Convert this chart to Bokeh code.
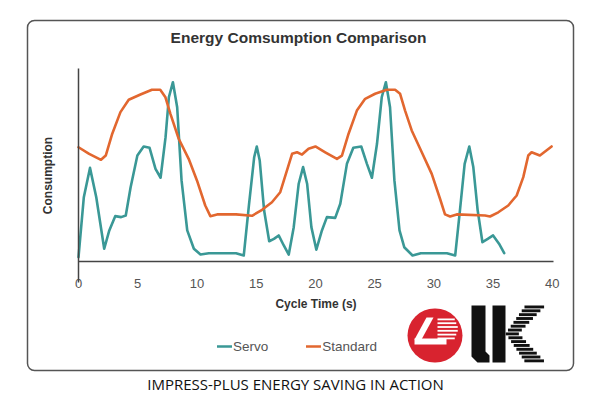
from bokeh.plotting import figure
from bokeh.models import (Range1d, FixedTicker, Label, BoxAnnotation, PolyAnnotation,
                          Legend, LegendItem)
from bokeh.embed import file_html
from bokeh.resources import INLINE

# ---------------- data ----------------
servo_t = [0, 0.45, 0.97, 1.5, 2.17, 2.6, 3.1, 3.6, 3.99, 4.4,
           4.97, 5.5, 6.0, 6.5, 6.93, 7.35, 7.63, 7.97, 8.33, 8.7,
           9.18, 9.74, 10.3, 11.0, 13.3, 13.95, 14.4, 14.83, 15.05, 15.3,
           15.67, 16.1, 16.5, 16.9, 17.33, 17.75, 18.17, 18.59, 18.96, 19.3,
           19.66, 20.08, 20.55, 20.97, 21.67, 22.1, 22.66, 23.2, 23.87, 24.35,
           24.77, 25.2, 25.6, 25.95, 26.3, 26.67, 27.1, 27.5, 28.2, 28.9,
           31.1, 31.8, 32.2, 32.6, 32.99, 33.33, 33.7, 34.1, 34.55, 35.0,
           35.5, 35.94]
servo_v = [0.22, 3.33, 4.85, 3.33, 0.66, 1.61, 2.35, 2.30, 2.38, 3.85,
           5.49, 5.96, 5.89, 4.80, 4.34, 6.44, 8.51, 9.29, 7.99, 4.20,
           1.61, 0.66, 0.36, 0.43, 0.43, 0.31, 2.99, 5.40, 5.96, 5.23,
           2.64, 1.05, 1.17, 1.35, 0.83, 0.36, 1.78, 4.03, 4.89, 4.03,
           1.78, 0.61, 1.61, 2.30, 2.26, 2.99, 5.06, 5.89, 5.96, 5.06,
           4.34, 6.10, 8.51, 9.29, 7.99, 4.20, 1.61, 0.74, 0.31, 0.43,
           0.43, 0.31, 2.64, 5.06, 5.96, 4.89, 2.64, 1.00, 1.17, 1.35,
           0.92, 0.43]

standard_t = [0, 0.9, 1.9, 2.3, 2.85, 3.54, 4.24, 5.23, 6.2, 6.9,
              7.34, 7.76, 8.46, 9.3, 10.0, 10.7, 11.13, 11.7, 13.3, 14.65,
              15.5, 16.33, 17.03, 17.6, 18.03, 18.45, 18.87, 19.42, 20.0, 20.83,
              21.82, 22.24, 22.8, 23.5, 24.2, 25.04, 26.03, 26.73, 27.15, 27.57,
              28.13, 28.98, 29.82, 30.52, 30.94, 31.37, 31.93, 34.32, 34.74, 35.44,
              36.28, 36.99, 37.55, 37.97, 38.25, 38.95, 39.94]
standard_v = [5.92, 5.58, 5.27, 5.49, 6.62, 7.74, 8.38, 8.65, 8.90, 8.90,
              8.51, 7.65, 6.36, 5.32, 4.20, 2.90, 2.35, 2.44, 2.44, 2.37,
              2.68, 3.07, 3.59, 4.72, 5.58, 5.66, 5.54, 5.84, 5.96, 5.66,
              5.32, 5.49, 6.62, 7.82, 8.43, 8.69, 8.90, 8.90, 8.69, 7.82,
              6.79, 5.66, 4.54, 3.25, 2.44, 2.33, 2.44, 2.38, 2.33, 2.55,
              2.90, 3.42, 4.37, 5.49, 5.66, 5.49, 5.96]

x_ticks = [0, 5, 10, 15, 20, 25, 30, 35, 40]
x_axis_max = 40.1
y_axis_min, y_axis_max = -1.09, 10.0
series_names = ["Servo", "Standard"]
series_colors = ["#3a9896", "#e2672f"]

title_text = "Energy Comsumption Comparison"
x_title = "Cycle Time (s)"
y_title = "Consumption"
caption_text = "IMPRESS-PLUS ENERGY SAVING IN ACTION"

# ---------------- layout geometry (pixels) ----------------
W, H = 600, 392
X0_PX, X1_PX = 78, 553          # pixel positions of x = 0 and x = x_axis_max
Y0_PX, YTOP_PX = 261, 68        # pixel positions of y = 0 and y = y_axis_max
ppx = (X1_PX - X0_PX) / x_axis_max
ppy = (Y0_PX - YTOP_PX) / y_axis_max

p = figure(width=W, height=H, output_backend="svg", toolbar_location=None,
           x_range=Range1d(-X0_PX / ppx, (W - X0_PX) / ppx),
           y_range=Range1d(-(H - Y0_PX) / ppy, Y0_PX / ppy),
           min_border=0, min_border_left=0, min_border_right=0,
           min_border_top=0, min_border_bottom=0)
p.outline_line_color = None
p.xgrid.visible = False
p.ygrid.visible = False
p.background_fill_color = "white"
p.border_fill_color = "white"

FONT = "Liberation Sans"
AX = "#444444"

xa = p.xaxis[0]
xa.fixed_location = 0
xa.bounds = (0, x_axis_max)
xa.ticker = FixedTicker(ticks=x_ticks)
xa.minor_tick_line_color = None
xa.major_tick_in = 0
xa.major_tick_out = 0
xa.major_label_standoff = 17
xa.major_label_text_font = FONT
xa.major_label_text_font_size = "13px"
xa.major_label_text_color = "#555555"
xa.axis_line_color = AX
xa.axis_line_width = 1.5
xa.axis_label = x_title
xa.axis_label_standoff = 6
xa.axis_label_text_font = FONT
xa.axis_label_text_font_style = "bold"
xa.axis_label_text_font_size = "12px"
xa.axis_label_text_color = "#333333"

ya = p.yaxis[0]
ya.fixed_location = 0
ya.bounds = (y_axis_min, y_axis_max)
ya.ticker = FixedTicker(ticks=[])
ya.minor_tick_line_color = None
ya.major_tick_in = 0
ya.major_tick_out = 0
ya.major_label_standoff = 0
ya.axis_line_color = AX
ya.axis_line_width = 1.5
ya.axis_label = y_title
ya.axis_label_standoff = 24
ya.axis_label_text_font = FONT
ya.axis_label_text_font_style = "bold"
ya.axis_label_text_font_size = "12px"
ya.axis_label_text_color = "#333333"

r_servo = p.line(servo_t, servo_v, line_color=series_colors[0], line_width=2.6,
                 line_join="round", line_cap="round")
r_std = p.line(standard_t, standard_v, line_color=series_colors[1], line_width=2.6,
               line_join="round", line_cap="round")


# screen helpers: page pixel -> screen units (x from left, y from bottom)
def sx(px):
    return px


def sy(py):
    return H - py


legend = Legend(items=[LegendItem(label=series_names[0], renderers=[r_servo]),
                       LegendItem(label=series_names[1], renderers=[r_std])],
                location=(sx(217), sy(356)), orientation="horizontal",
                border_line_color=None, background_fill_alpha=0,
                padding=0, margin=0, spacing=38, glyph_width=15,
                label_standoff=1, label_text_font=FONT,
                label_text_font_size="13.5px", label_text_color="#555555")
p.add_layout(legend)

# rounded frame
p.add_layout(BoxAnnotation(left=sx(27), right=sx(573), top=sy(20), bottom=sy(370),
                           left_units="screen", right_units="screen",
                           top_units="screen", bottom_units="screen",
                           fill_alpha=0, line_color="#555555", line_alpha=1,
                           line_width=1.5, border_radius=7, level="underlay"))

p.add_layout(Label(x=sx(298), y=sy(37), x_units="screen", y_units="screen",
                   text=title_text, text_align="center", text_baseline="middle",
                   text_font=FONT, text_font_style="bold", text_font_size="15.5px",
                   text_color="#333333"))
p.add_layout(Label(x=sx(295), y=sy(383), x_units="screen", y_units="screen",
                   text=caption_text, text_align="center", text_baseline="middle",
                   text_font="Open Sans", text_font_size="15px", text_color="#111111"))

# ---------------- logo ----------------
RED = "#d8232f"


def sbox(l, r, t, b, color, radius=0):
    p.add_layout(BoxAnnotation(left=sx(l), right=sx(r), top=sy(t), bottom=sy(b),
                               left_units="screen", right_units="screen",
                               top_units="screen", bottom_units="screen",
                               fill_color=color, fill_alpha=1, line_color=None,
                               border_radius=int(radius)))


def spoly(pts, color):
    p.add_layout(PolyAnnotation(xs=[sx(a) for a, _ in pts], ys=[sy(b) for _, b in pts],
                                xs_units="screen", ys_units="screen",
                                fill_color=color, fill_alpha=1, line_color=None))


sbox(407, 462, 308, 362, RED, radius=28)
# white emblem in circle
spoly([(426, 317), (433, 317), (421, 339), (414, 339)], "white")
sbox(414, 446, 338, 344, "white")
for i in range(6):
    y0 = 318 + i * 3.8
    sbox(437, 458 - abs(i - 2.5) * 1.5, y0, y0 + 1.8, "white")
# black "l"
spoly([(471, 305), (485, 305), (485, 351), (489, 355), (489, 362), (477, 362), (471, 356)],
      "#111111")
# black "K"
sbox(492, 505, 305, 362, "#111111")
n = 15
for i in range(n):
    y0 = 305 + i * 3.85
    y1 = y0 + 2.9
    yc = (y0 + y1) / 2
    if yc < 333:
        t = (yc - 305) / 28.0
        xs0, xs1 = 525 - 20 * t, 545 - 27 * t
    else:
        t = (yc - 333) / 29.0
        xs0, xs1 = 505 + 20 * t, 518 + 27 * t
    sbox(xs0, xs1, y0, y1, "#111111")

open("out.html", "w").write(file_html(p, INLINE))
